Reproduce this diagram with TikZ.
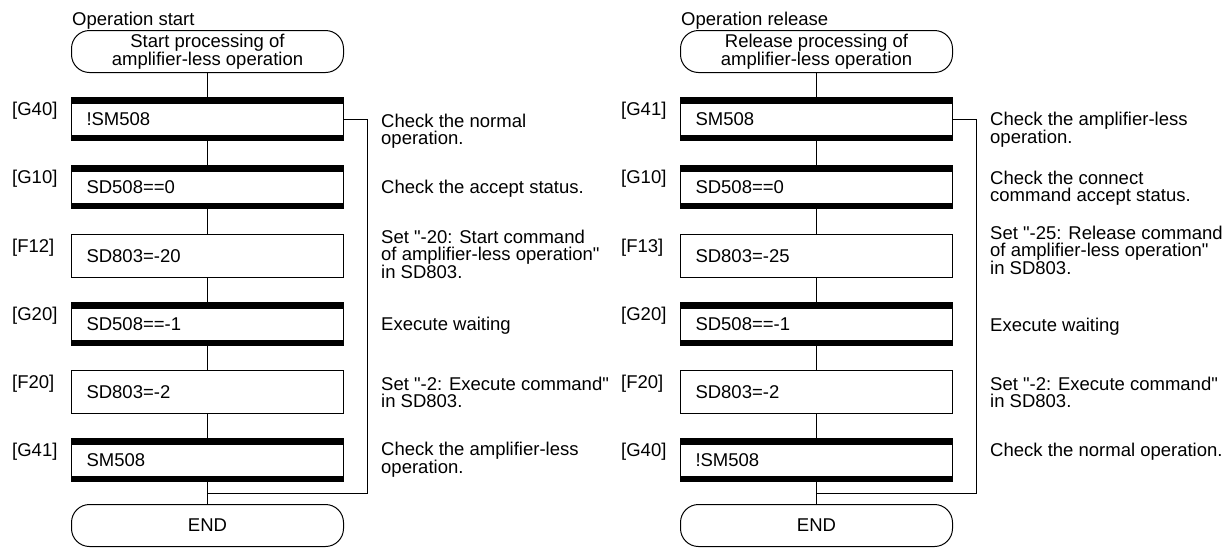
\documentclass[tikz,border=0pt]{standalone}
\usepackage{fontspec}
\setmainfont{Liberation Sans}[Ligatures=TeXOff]
\usetikzlibrary{calc}
\begin{document}
\begin{tikzpicture}[x=1pt,y=-1pt,
  every node/.style={font=\fontsize{18.5}{17}\selectfont, inner sep=0pt},
  fbox/.style={draw, line width=1pt, minimum width=272pt, minimum height=43pt,
    text width=242pt, inner xsep=15pt, align=left, anchor=north west},
  gbox/.style={fbox, path picture={
    \fill (path picture bounding box.north west) rectangle ([yshift=-6pt]path picture bounding box.north east);
    \fill (path picture bounding box.south west) rectangle ([yshift=6pt]path picture bounding box.south east);}},
  term/.style={draw, line width=1pt, rounded corners=18pt, minimum width=272pt,
    minimum height=42pt, align=center, anchor=north west,
    font=\fontsize{18.5}{18}\selectfont},
  lbl/.style={anchor=north west},
  desc/.style={anchor=north west, align=left},
  conn/.style={line width=1pt}]
\useasboundingbox (0,0) rectangle (1232,547);

% ---------- left chart ----------
\node[lbl] (t1) at (72,12) {Operation start};
\node[term] (s1) at (71,30) {Start processing of\\amplifier-less operation};
\node[gbox] (a1) at (71,97)  {!SM508};
\node[gbox] (b1) at (71,165) {SD508==0};
\node[fbox] (c1) at (71,234) {SD803=-20};
\node[gbox] (d1) at (71,302) {SD508==-1};
\node[fbox] (e1) at (71,370) {SD803=-2};
\node[gbox] (f1) at (71,438) {SM508};
\node[term] (z1) at (71,504) {END};

\node[lbl] (la1) at (12,102) {[G40]};
\node[lbl] (lb1) at (12,170) {[G10]};
\node[lbl] (lc1) at (12,239) {[F12]};
\node[lbl] (ld1) at (12,307) {[G20]};
\node[lbl] (le1) at (12,375) {[F20]};
\node[lbl] (lf1) at (12,443) {[G41]};

\node[desc] (da1) at (381,114) {Check the normal\\operation.};
\node[desc] (db1) at (381,180) {Check the accept status.};
\node[desc] (dc1) at (381,230) {Set "-20: Start command\\of amplifier-less operation"\\in SD803.};
\node[desc] (dd1) at (381,317) {Execute waiting};
\node[desc] (de1) at (381,377) {Set "-2: Execute command"\\in SD803.};
\node[desc] (df1) at (381,442) {Check the amplifier-less\\operation.};

\draw[conn] (s1.south) -- (a1.north);
\draw[conn] (a1.south) -- (b1.north);
\draw[conn] (b1.south) -- (c1.north);
\draw[conn] (c1.south) -- (d1.north);
\draw[conn] (d1.south) -- (e1.north);
\draw[conn] (e1.south) -- (f1.north);
\draw[conn] (f1.south) -- (z1.north);
\coordinate (j1) at ($(f1.south)!0.5!(z1.north)$);
\draw[conn] (a1.east) -- ++(23,0) |- (j1);

% ---------- right chart ----------
\node[lbl] (t2) at (681,12) {Operation release};
\node[term] (s2) at (680,30) {Release processing of\\amplifier-less operation};
\node[gbox] (a2) at (680,97)  {SM508};
\node[gbox] (b2) at (680,165) {SD508==0};
\node[fbox] (c2) at (680,234) {SD803=-25};
\node[gbox] (d2) at (680,302) {SD508==-1};
\node[fbox] (e2) at (680,370) {SD803=-2};
\node[gbox] (f2) at (680,438) {!SM508};
\node[term] (z2) at (680,504) {END};

\node[lbl] (la2) at (621,102) {[G41]};
\node[lbl] (lb2) at (621,170) {[G10]};
\node[lbl] (lc2) at (621,239) {[F13]};
\node[lbl] (ld2) at (621,307) {[G20]};
\node[lbl] (le2) at (621,375) {[F20]};
\node[lbl] (lf2) at (621,443) {[G40]};

\node[desc] (da2) at (990,112) {Check the amplifier-less\\operation.};
\node[desc] (db2) at (990,171) {Check the connect\\command accept status.};
\node[desc] (dc2) at (990,226) {Set "-25: Release command\\of amplifier-less operation"\\in SD803.};
\node[desc] (dd2) at (990,318) {Execute waiting};
\node[desc] (de2) at (990,377) {Set "-2: Execute command"\\in SD803.};
\node[desc] (df2) at (990,443) {Check the normal operation.};

\draw[conn] (s2.south) -- (a2.north);
\draw[conn] (a2.south) -- (b2.north);
\draw[conn] (b2.south) -- (c2.north);
\draw[conn] (c2.south) -- (d2.north);
\draw[conn] (d2.south) -- (e2.north);
\draw[conn] (e2.south) -- (f2.north);
\draw[conn] (f2.south) -- (z2.north);
\coordinate (j2) at ($(f2.south)!0.5!(z2.north)$);
\draw[conn] (a2.east) -- ++(23,0) |- (j2);
\end{tikzpicture}
\end{document}
